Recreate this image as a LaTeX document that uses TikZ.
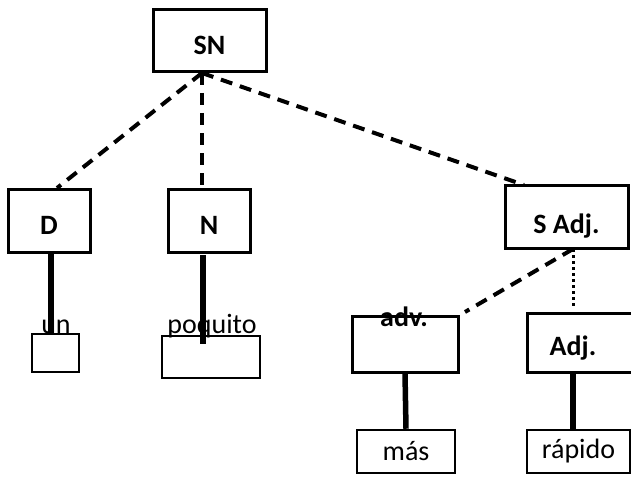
\documentclass[tikz,border=0pt]{standalone}
\usepackage{fontspec}
\setmainfont{Carlito}
\usetikzlibrary{positioning,calc}

\begin{document}
\begin{tikzpicture}[x=1pt, y=-1pt,
    box/.style={draw, line width=3pt, inner sep=0pt, text height=28pt, text depth=0pt,
      font=\fontsize{28}{32}\selectfont\bfseries},
    tag/.style={inner sep=0pt, anchor=base, font=\fontsize{28}{32}\selectfont\bfseries},
    leaf/.style={draw, line width=2.5pt, inner sep=0pt},
    word/.style={inner sep=0pt, font=\fontsize{28}{32}\selectfont},
    branch/.style={line width=4pt, dash pattern=on 12pt off 8pt},
    stem/.style={line width=5.5pt}]
    \useasboundingbox (0,0) rectangle (631,476);

    % categories
    \node[box, minimum width=113pt, minimum height=62pt] (sn) at (209.5,41) {SN};
    \node[box, minimum width=82pt, minimum height=63pt] (d) at (49,220.5) {D};
    \node[box, minimum width=82pt, minimum height=63pt] (n) at (209,220.5) {N};
    \node[box, minimum width=123pt, minimum height=63pt, text height=34pt] (sadj) at (566.5,216.5) {S Adj.};
    \node[box, minimum width=106pt, minimum height=56pt] (adv) at (405,344) {};
    \node[tag] (advlab) at (404,326) {adv.};
    \node[box, minimum width=105pt, minimum height=59pt] (adj) at (580,342.5) {};
    \node[tag] (adjlab) at (573,355) {Adj.};

    % words
    \node[leaf, minimum width=47pt, minimum height=38pt] (unbox) at (55.5,353) {};
    \node[leaf, minimum width=98pt, minimum height=42pt] (poqbox) at (211,357) {};
    \node[leaf, minimum width=98pt, minimum height=43pt, word] (mas) at (406,451.5) {más};
    \node[leaf, minimum width=103pt, minimum height=43pt, word] (rapido) at (578.5,451.5) {rápido};

    % junctions
    \coordinate (top) at (202,73);
    \coordinate (sadjfoot) at (573,249);

    % dashed branches
    \draw[branch] (top) -- (57,188);
    \draw[branch] (top) -- (202,188);
    \draw[branch] (top) -- (524,185);
    \draw[branch] (sadjfoot) -- (465,312);
    \draw[line width=3pt, dash pattern=on 3pt off 3pt] (sadjfoot) -- (573,308);

    % stems
    \draw[stem] (51,252) -- (51,334);
    \draw[stem] (203,255) -- (203,344);
    \draw[stem] (adv.south) -- (mas.north);
    \draw[stem] (573,372) -- (573,430);

    % word labels
    \node[word, anchor=base] (un) at (56,333) {un};
    \node[word, anchor=base] (poquito) at (212,333) {poquito};
\end{tikzpicture}
\end{document}
